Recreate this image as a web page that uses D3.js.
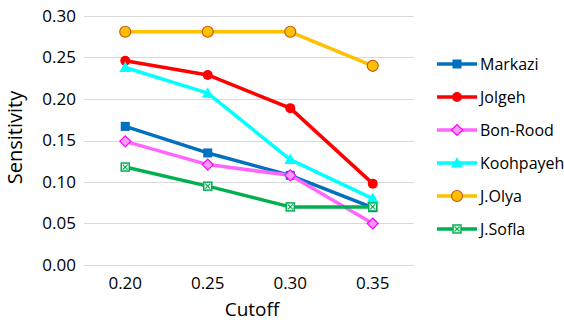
<!DOCTYPE html>
<html>
<head>
<meta charset="utf-8">
<script src="https://cdn.jsdelivr.net/npm/d3@7"></script>
<style>
  body { margin: 0; background: #fff; }
  svg { font-family: "Open Sans", sans-serif; }
</style>
</head>
<body>
<div class="chart"></div>
<script>
// x categories
const cutoffs = ["0.20", "0.25", "0.30", "0.35"]
const yTicks = [0, 0.05, 0.1, 0.15, 0.2, 0.25, 0.3]

// series values
const markazi = [0.167, 0.135, 0.108, 0.069]
const jolgeh = [0.246, 0.229, 0.189, 0.098]
const bonRood = [0.149, 0.121, 0.108, 0.050]
const koohpayeh = [0.238, 0.207, 0.127, 0.080]
const jOlya = [0.281, 0.281, 0.281, 0.240]
const jSofla = [0.118, 0.095, 0.070, 0.070]

const seriesNames = ["Markazi", "Jolgeh", "Bon-Rood", "Koohpayeh", "J.Olya", "J.Sofla"]
const seriesValues = [markazi, jolgeh, bonRood, koohpayeh, jOlya, jSofla]

const styles = {
  "Markazi": { color: "#0070C0", marker: "square" },
  "Jolgeh": { color: "#FF0000", marker: "circle" },
  "Bon-Rood": { color: "#FF66FF", marker: "diamond" },
  "Koohpayeh": { color: "#00FFFF", marker: "triangle" },
  "J.Olya": { color: "#FFC000", marker: "ocircle" },
  "J.Sofla": { color: "#00B050", marker: "xsquare" },
}

const config = {
  width: 564,
  height: 323,
  left: 84,
  right: 414,
  top: 16,
  bottom: 265,
}

const svg = d3.select(".chart").append("svg")
  .attr("width", config.width)
  .attr("height", config.height)

// 比例尺
const scaleX = d3.scaleBand()
  .domain(cutoffs)
  .range([config.left, config.right])

const scaleY = d3.scaleLinear()
  .domain([0, 0.3])
  .range([config.bottom, config.top])

// 网格线
svg.append("g")
  .selectAll("line")
  .data(yTicks)
  .join("line")
  .attr("x1", config.left)
  .attr("x2", config.right)
  .attr("y1", (d) => Math.round(scaleY(d)) + 0.5)
  .attr("y2", (d) => Math.round(scaleY(d)) + 0.5)
  .attr("stroke", "#d9d9d9")
  .attr("stroke-width", 1)

// 纵坐标
const yAxis = svg.append("g")
  .attr("transform", `translate(${config.left},0)`)
  .call(d3.axisLeft(scaleY).tickValues(yTicks).tickFormat(d3.format(".2f")).tickSize(0).tickPadding(8))
yAxis.select(".domain").remove()
yAxis.selectAll("text")
  .attr("font-size", 17)
  .attr("font-family", "Open Sans, sans-serif")
  .attr("fill", "#000")

// 横坐标
const xAxis = svg.append("g")
  .attr("transform", `translate(0,${config.bottom})`)
  .call(d3.axisBottom(scaleX).tickSize(0).tickPadding(12))
xAxis.select(".domain").remove()
xAxis.selectAll("text")
  .attr("font-size", 17)
  .attr("font-family", "Open Sans, sans-serif")
  .attr("fill", "#000")

// 轴标题
svg.append("text")
  .attr("x", (config.left + config.right) / 2 + 3)
  .attr("y", 316)
  .attr("text-anchor", "middle")
  .attr("font-size", 19)
  .attr("fill", "#000")
  .text("Cutoff")

svg.append("text")
  .attr("transform", `translate(22,${(config.top + config.bottom) / 2 - 3}) rotate(-90)`)
  .attr("text-anchor", "middle")
  .attr("font-size", 20)
  .attr("fill", "#000")
  .text("Sensitivity")

function drawMarker(g, type, color, x, y) {
  if (type === "square") {
    g.append("rect").attr("x", x - 4.5).attr("y", y - 4.5).attr("width", 9).attr("height", 9)
      .attr("fill", color)
  } else if (type === "circle") {
    g.append("circle").attr("cx", x).attr("cy", y).attr("r", 5).attr("fill", color)
  } else if (type === "diamond") {
    g.append("path").attr("d", `M${x},${y - 5.5}L${x + 5.5},${y}L${x},${y + 5.5}L${x - 5.5},${y}Z`)
      .attr("fill", "#FF99FF").attr("stroke", "#FF00FF").attr("stroke-width", 1.2)
  } else if (type === "triangle") {
    g.append("path").attr("d", `M${x},${y - 6}L${x + 6},${y + 4.5}L${x - 6},${y + 4.5}Z`)
      .attr("fill", color)
  } else if (type === "ocircle") {
    g.append("circle").attr("cx", x).attr("cy", y).attr("r", 5.5)
      .attr("fill", color).attr("stroke", "#C55A11").attr("stroke-width", 1.2)
  } else if (type === "xsquare") {
    g.append("rect").attr("x", x - 4).attr("y", y - 4).attr("width", 8).attr("height", 8)
      .attr("fill", "#fff").attr("stroke", color).attr("stroke-width", 1.5)
    g.append("path").attr("d", `M${x - 2.5},${y - 2.5}L${x + 2.5},${y + 2.5}M${x + 2.5},${y - 2.5}L${x - 2.5},${y + 2.5}`)
      .attr("stroke", color).attr("stroke-width", 1.2)
  }
}

const line = d3.line()
  .x((d, i) => scaleX(cutoffs[i]) + scaleX.bandwidth() / 2)
  .y((d) => scaleY(d))

// 折线
seriesNames.forEach((name, k) => {
  const s = styles[name]
  const g = svg.append("g")
  g.append("path")
    .datum(seriesValues[k])
    .attr("d", line)
    .attr("fill", "none")
    .attr("stroke", s.color)
    .attr("stroke-width", 3.5)
    .attr("stroke-linejoin", "round")
  seriesValues[k].forEach((v, i) => {
    drawMarker(g, s.marker, s.color, scaleX(cutoffs[i]) + scaleX.bandwidth() / 2, scaleY(v))
  })
})

// 图例
const legend = svg.append("g")
seriesNames.forEach((name, k) => {
  const s = styles[name]
  const y = 64 + k * 33
  const g = legend.append("g")
  g.append("line")
    .attr("x1", 437).attr("x2", 477).attr("y1", y).attr("y2", y)
    .attr("stroke", s.color).attr("stroke-width", 3.5)
  drawMarker(g, s.marker, s.color, 457, y)
  g.append("text")
    .attr("x", 480).attr("y", y)
    .attr("dy", "0.35em")
    .attr("font-size", 16)
    .attr("fill", "#000")
    .text(name)
})
</script>
</body>
</html>
